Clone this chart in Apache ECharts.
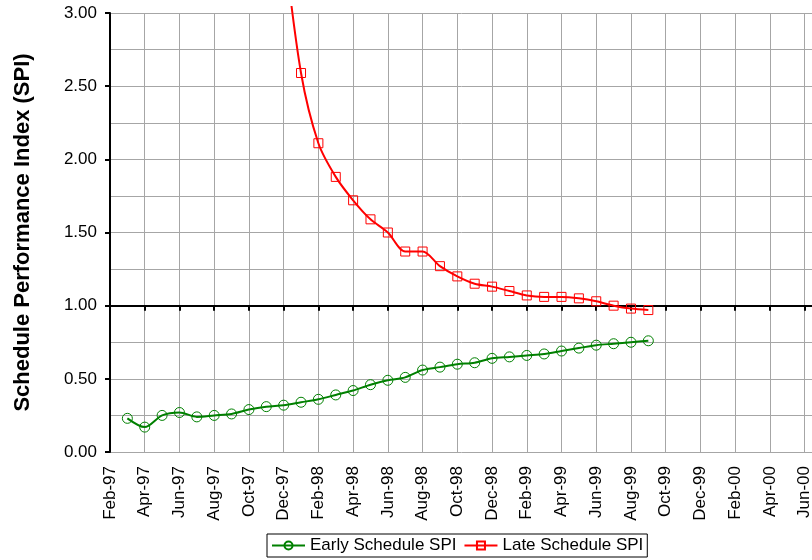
<!DOCTYPE html>
<html>
<head>
<meta charset="utf-8">
<script src="https://cdn.jsdelivr.net/npm/echarts@6/dist/echarts.min.js"></script>
<style>
html,body{margin:0;padding:0;background:#fff;}
#chart{width:812px;height:560px;}
</style>
</head>
<body>
<div id="chart"></div>
<script>
// Month categories (x axis)
var months = ['Feb-97','Mar-97','Apr-97','May-97','Jun-97','Jul-97','Aug-97','Sep-97','Oct-97','Nov-97','Dec-97',
  'Jan-98','Feb-98','Mar-98','Apr-98','May-98','Jun-98','Jul-98','Aug-98','Sep-98','Oct-98','Nov-98','Dec-98',
  'Jan-99','Feb-99','Mar-99','Apr-99','May-99','Jun-99','Jul-99','Aug-99','Sep-99','Oct-99','Nov-99','Dec-99',
  'Jan-00','Feb-00','Mar-00','Apr-00','May-00','Jun-00','Jul-00'];

// Early Schedule SPI (Mar-97 .. Sep-99)
var earlySPI = [null, 0.23, 0.17, 0.25, 0.27, 0.24, 0.25, 0.26, 0.29, 0.31, 0.32,
  0.34, 0.36, 0.39, 0.42, 0.46, 0.49, 0.51, 0.56, 0.58, 0.60, 0.61, 0.64,
  0.65, 0.66, 0.67, 0.69, 0.71, 0.73, 0.74, 0.75, 0.76];

// Late Schedule SPI (Dec-97 .. Sep-99)
var lateSPI = [null, null, null, null, null, null, null, null, null, null, 3.5,
  2.59, 2.11, 1.88, 1.72, 1.59, 1.50, 1.37, 1.37, 1.27, 1.20, 1.15, 1.13,
  1.10, 1.07, 1.06, 1.06, 1.05, 1.03, 1.00, 0.98, 0.97];

var seriesNames = ['Early Schedule SPI', 'Late Schedule SPI'];
var yTitle = 'Schedule Performance Index (SPI)';
var yMin = 0, yMax = 3, yStep = 0.5, yCross = 1.0;

var FONT = '"Liberation Sans", Arial, sans-serif';
var gridTop = 13, gridBottom = 108, H = 560;
var gridH = H - gridTop - gridBottom;
var crossOffset = -gridH * (yCross - yMin) / (yMax - yMin);

var chart = echarts.init(document.getElementById('chart'), null, {renderer: 'canvas'});
chart.setOption({
  animation: false,
  backgroundColor: '#fff',
  grid: {left: 110, right: -10, top: gridTop, bottom: gridBottom, containLabel: false, outerBoundsMode: 'none'},
  legend: {
    left: 267, top: 534,
    padding: [3, 4, 3, 4],
    borderColor: '#000', borderWidth: 1,
    itemWidth: 33, itemHeight: 10, itemGap: 7,
    textStyle: {fontFamily: FONT, fontSize: 17, color: '#000'},
    data: seriesNames
  },
  xAxis: [{
    type: 'category', data: months, boundaryGap: false, position: 'bottom',
    axisLine: {show: false}, axisTick: {show: false},
    axisLabel: {rotate: 90, interval: 1, margin: 14, fontFamily: FONT, fontSize: 17, color: '#000'},
    splitLine: {show: true, interval: 1, lineStyle: {color: '#a6a6a6', width: 1}}
  }, {
    type: 'category', data: months, boundaryGap: false, position: 'bottom', offset: crossOffset,
    axisLine: {show: true, lineStyle: {color: '#000', width: 2}},
    axisTick: {show: true, interval: 1, length: 5, lineStyle: {color: '#000', width: 2}},
    axisLabel: {show: false}, splitLine: {show: false}
  }],
  yAxis: {
    type: 'value', min: yMin, max: yMax, interval: yStep,
    name: yTitle, nameLocation: 'middle', nameGap: 76, nameRotate: 90,
    nameTextStyle: {fontFamily: FONT, fontSize: 22, fontWeight: 'bold', color: '#000'},
    axisLine: {show: true, lineStyle: {color: '#000', width: 2}},
    axisTick: {show: true, length: 5, lineStyle: {color: '#000', width: 2}},
    axisLabel: {margin: 13, fontFamily: FONT, fontSize: 17, color: '#000',
      formatter: function (v) { return v.toFixed(2); }},
    splitLine: {show: true, lineStyle: {color: '#a6a6a6', width: 1}},
    minorTick: {show: false, splitNumber: 2},
    minorSplitLine: {show: true, lineStyle: {color: '#a6a6a6', width: 1}}
  },
  graphic: [{type: 'rect', z: 100, shape: {x: 0, y: 0, width: 812, height: 6}, style: {fill: '#fff'}}],
  series: [{
    name: seriesNames[0], type: 'line', xAxisIndex: 0, data: earlySPI,
    smooth: 0.3, connectNulls: false,
    symbol: 'circle', symbolSize: 10,
    lineStyle: {color: '#008000', width: 2},
    itemStyle: {color: 'rgba(255,255,255,0)', borderColor: '#008000', borderWidth: 1}
  }, {
    name: seriesNames[1], type: 'line', xAxisIndex: 0, data: lateSPI,
    smooth: 0.3, clip: false,
    symbol: 'rect', symbolSize: 9,
    lineStyle: {color: '#ff0000', width: 2},
    itemStyle: {color: 'rgba(255,255,255,0)', borderColor: '#ff0000', borderWidth: 1}
  }]
});
</script>
</body>
</html>
